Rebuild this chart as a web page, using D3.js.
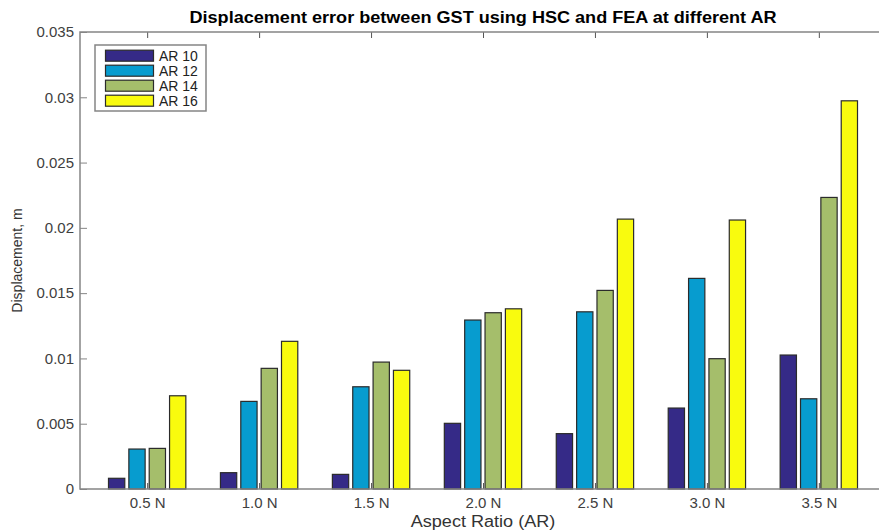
<!DOCTYPE html>
<html>
<head>
<meta charset="utf-8">
<script src="https://cdn.jsdelivr.net/npm/d3@7"></script>
<style>
  body { margin: 0; background: #ffffff; }
  text { font-family: "Liberation Sans", Arial, sans-serif; }
</style>
</head>
<body>
<div id="div_template"></div>
<script>
// *****************************************************************************
// data
// *****************************************************************************

var categories = ["0.5 N", "1.0 N", "1.5 N", "2.0 N", "2.5 N", "3.0 N", "3.5 N"];
var seriesNames = ["AR 10", "AR 12", "AR 14", "AR 16"];
var ar10 = [0.00082, 0.00125, 0.00112, 0.00503, 0.00424, 0.0062, 0.01026];
var ar12 = [0.00306, 0.00671, 0.00783, 0.01294, 0.01357, 0.01613, 0.00691];
var ar14 = [0.00311, 0.00924, 0.00972, 0.0135, 0.01521, 0.00998, 0.02233];
var ar16 = [0.00714, 0.01131, 0.00909, 0.0138, 0.02067, 0.0206, 0.02973];
var yTicks = [0, 0.005, 0.01, 0.015, 0.02, 0.025, 0.03, 0.035];
var yTickLabels = ["0", "0.005", "0.01", "0.015", "0.02", "0.025", "0.03", "0.035"];
var colors = ["#352a87", "#079ccf", "#a5be6b", "#f9fb0e"];

var series = [ar10, ar12, ar14, ar16];

// *****************************************************************************
// dimensions
// *****************************************************************************

var width = 879,
  height = 531;
var margin = { left: 80, right: 886, top: 32, bottom: 489 };
var axisColor = "#858585";

var svg = d3
  .select("#div_template")
  .append("svg")
  .attr("width", width)
  .attr("height", height);

svg
  .append("rect")
  .attr("width", width)
  .attr("height", height)
  .attr("fill", "white");

// *****************************************************************************
// scales  (matlab style: categories at 1..7, xlim [0.4, 7.6])
// *****************************************************************************

var x = d3.scaleLinear().domain([0.4, 7.6]).range([margin.left, margin.right]);
var y = d3.scaleLinear().domain([0, 0.035]).range([margin.bottom, margin.top]);

var groupWidth = 4 / 5.5;
var step = groupWidth / 4;
var barW = 0.8 * step;

// *****************************************************************************
// bottom ticks (drawn under bars)
// *****************************************************************************

svg
  .append("g")
  .attr("transform", "translate(0," + margin.bottom + ")")
  .call(
    d3
      .axisBottom(x)
      .tickValues(d3.range(1, categories.length + 1))
      .tickSize(-6)
      .tickPadding(8)
      .tickFormat(function (d) {
        return categories[d - 1];
      })
  )
  .call(function (g) {
    g.select(".domain").remove();
    g.selectAll("line").attr("stroke", "#555");
    g.selectAll("text")
      .attr("fill", "#404040")
      .style("font-size", "15px")
      .attr("dy", "0.71em");
  });

// *****************************************************************************
// bars
// *****************************************************************************

series.forEach(function (vals, s) {
  svg
    .append("g")
    .selectAll("rect")
    .data(vals)
    .enter()
    .append("rect")
    .attr("x", function (d, i) {
      return x(i + 1 + (s - 1.5) * step - barW / 2);
    })
    .attr("width", function () {
      return x(0.4 + barW) - x(0.4);
    })
    .attr("y", function (d) {
      return y(d);
    })
    .attr("height", function (d) {
      return y(0) - y(d);
    })
    .attr("fill", colors[s])
    .attr("stroke", "#2b2b2b")
    .attr("stroke-width", 1.2);
});

// *****************************************************************************
// axes
// *****************************************************************************

svg
  .append("g")
  .attr("transform", "translate(" + margin.left + ",0)")
  .call(
    d3
      .axisLeft(y)
      .tickValues(yTicks)
      .tickSize(-7)
      .tickPadding(6)
      .tickFormat(function (d, i) {
        return yTickLabels[i];
      })
  )
  .call(function (g) {
    g.select(".domain").remove();
    g.selectAll("line").attr("stroke", axisColor);
    g.selectAll("text").attr("fill", "#404040").style("font-size", "15px");
  });

// right ticks
svg
  .append("g")
  .attr("transform", "translate(" + margin.right + ",0)")
  .call(d3.axisRight(y).tickValues(yTicks).tickSize(-7).tickFormat(""))
  .call(function (g) {
    g.select(".domain").remove();
    g.selectAll("line").attr("stroke", axisColor);
  });

// top ticks
svg
  .append("g")
  .attr("transform", "translate(0," + margin.top + ")")
  .call(
    d3
      .axisTop(x)
      .tickValues(d3.range(1, categories.length + 1))
      .tickSize(-6)
      .tickFormat("")
  )
  .call(function (g) {
    g.select(".domain").remove();
    g.selectAll("line").attr("stroke", "#555");
  });

// box
svg
  .append("rect")
  .attr("x", margin.left)
  .attr("y", margin.top)
  .attr("width", margin.right - margin.left)
  .attr("height", margin.bottom - margin.top)
  .attr("fill", "none")
  .attr("stroke", axisColor)
  .attr("stroke-width", 1.5);

// *****************************************************************************
// titles (the source image is a bit stretched sideways)
// *****************************************************************************

var cx = (margin.left + margin.right) / 2;

svg
  .append("text")
  .attr("transform", "translate(" + cx + ",23) scale(1.13,1)")
  .attr("text-anchor", "middle")
  .style("font-size", "16px")
  .style("font-weight", "bold")
  .attr("fill", "#000")
  .text("Displacement error between GST using HSC and FEA at different AR");

svg
  .append("text")
  .attr("transform", "translate(" + cx + ",527) scale(1.13,1)")
  .attr("text-anchor", "middle")
  .style("font-size", "16px")
  .attr("fill", "#333")
  .text("Aspect Ratio (AR)");

svg
  .append("text")
  .attr("transform", "translate(22," + (margin.top + margin.bottom) / 2 + ") rotate(-90)")
  .attr("text-anchor", "middle")
  .style("font-size", "14px")
  .attr("fill", "#333")
  .text("Displacement, m");

// *****************************************************************************
// legend
// *****************************************************************************

var legend = svg.append("g").attr("transform", "translate(95,45)");

legend
  .append("rect")
  .attr("width", 111)
  .attr("height", 66)
  .attr("fill", "white")
  .attr("stroke", axisColor)
  .attr("stroke-width", 1.5);

seriesNames.forEach(function (name, i) {
  var row = legend.append("g").attr("transform", "translate(0," + (10.7 + i * 15) + ")");
  row
    .append("rect")
    .attr("x", 10.5)
    .attr("y", -5.5)
    .attr("width", 48)
    .attr("height", 11)
    .attr("fill", colors[i])
    .attr("stroke", "#2b2b2b")
    .attr("stroke-width", 1.2);
  row
    .append("text")
    .attr("x", 64)
    .attr("y", 0)
    .attr("dy", "0.35em")
    .style("font-size", "14px")
    .attr("fill", "#222")
    .text(name);
});
</script>
</body>
</html>
